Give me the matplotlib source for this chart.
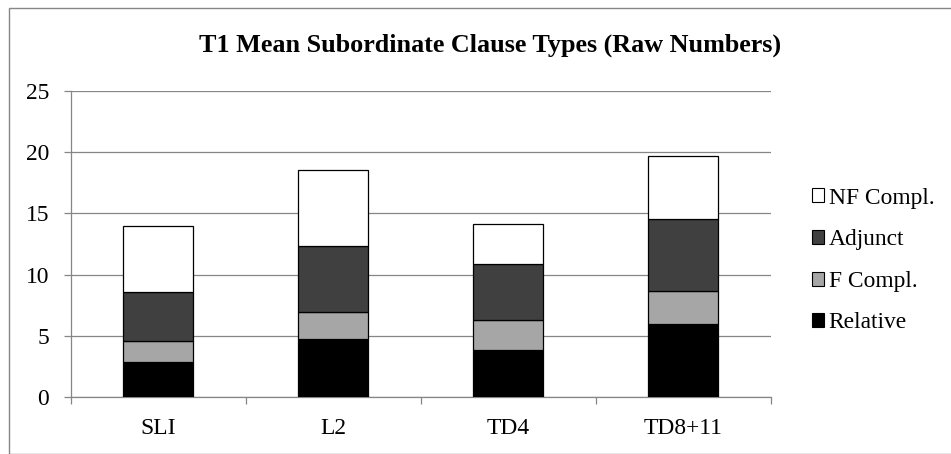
import matplotlib
matplotlib.use("Agg")
import matplotlib.pyplot as plt
from matplotlib.patches import Rectangle, Patch
import numpy as np

categories = ["SLI", "L2", "TD4", "TD8+11"]
series_names = ["Relative", "F Compl.", "Adjunct", "NF Compl."]
relative = [2.9, 4.7, 3.8, 6.0]
f_compl = [1.7, 2.25, 2.5, 2.7]
adjunct = [4.0, 5.4, 4.6, 5.85]
nf_compl = [5.35, 6.2, 3.25, 5.1]
y_ticks = [0, 5, 10, 15, 20, 25]
title = "T1 Mean Subordinate Clause Types (Raw Numbers)"

colors = ["#000000", "#A6A6A6", "#404040", "#FFFFFF"]
grid_gray = "#868686"

plt.rcParams["font.family"] = ["Liberation Serif", "DejaVu Serif"]

W, H = 951, 454
fig = plt.figure(figsize=(W / 100, H / 100), dpi=100)

# outer chart frame
fig.patches.append(Rectangle((9 / W, 0), 1.2, (H - 7.5) / H, transform=fig.transFigure,
                             fill=False, edgecolor=grid_gray, linewidth=1.0))

ax = fig.add_axes([70.7 / W, 57 / H, 700 / W, 306 / H])

x = np.arange(len(categories))
bottom = np.zeros(len(categories))
for name, vals, col in zip(series_names, [relative, f_compl, adjunct, nf_compl], colors):
    ax.bar(x, vals, width=0.4, bottom=bottom, color=col, edgecolor="black",
           linewidth=0.9, label=name, zorder=3)
    bottom += np.array(vals)

ax.set_xlim(-0.5, len(categories) - 0.5)
ax.set_ylim(0, 25)
ax.set_yticks(y_ticks)
ax.yaxis.grid(True, color=grid_gray, linewidth=0.9, zorder=0)
ax.set_axisbelow(True)

ax.set_xticks(x)
ax.set_xticklabels(categories)
ax.set_xticks(np.arange(-0.5, len(categories)), minor=True)
ax.tick_params(axis="x", which="major", length=0, pad=15, labelsize=16.9)
ax.tick_params(axis="x", which="minor", length=5, width=0.9, color=grid_gray, direction="out")
ax.tick_params(axis="y", length=5, width=0.9, color=grid_gray, pad=10.5, labelsize=16.9)

for s in ["top", "right"]:
    ax.spines[s].set_visible(False)
for s in ["left", "bottom"]:
    ax.spines[s].set_color(grid_gray)
    ax.spines[s].set_linewidth(0.9)

fig.text(490 / W, (H - 52) / H, title, ha="center", va="baseline",
         fontsize=18.8, fontweight="bold")

handles = [Patch(facecolor=c, edgecolor="black", linewidth=0.8) for c in colors][::-1]
labels = series_names[::-1]
fig.legend(handles, labels, loc="center left", bbox_to_anchor=(811.7 / W, 193.5 / H),
           frameon=False, fontsize=16.9, handlelength=0.54, handleheight=0.54,
           handletextpad=0.18, labelspacing=0.88, borderpad=0, borderaxespad=0)

fig.savefig("out.png", dpi=100)
